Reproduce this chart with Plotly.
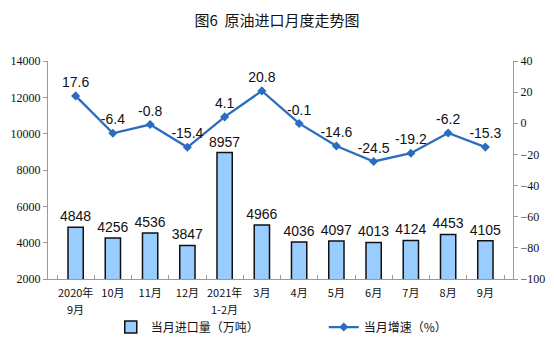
import plotly.graph_objects as go

months = ["2020年9月", "10月", "11月", "12月", "2021年1-2月", "3月",
          "4月", "5月", "6月", "7月", "8月", "9月"]
# first / second line of each category label
label_top = ["2020年", "10月", "11月", "12月", "2021年", "3月",
             "4月", "5月", "6月", "7月", "8月", "9月"]
label_bottom = ["9月", "", "", "", "1-2月", "", "", "", "", "", "", ""]
imports = [4848, 4256, 4536, 3847, 8957, 4966, 4036, 4097, 4013, 4124, 4453, 4105]
growth = [17.6, -6.4, -0.8, -15.4, 4.1, 20.8, -0.1, -14.6, -24.5, -19.2, -6.2, -15.3]

serif = "Liberation Serif, Times New Roman, serif"
cjk = "Noto Sans CJK SC, sans-serif"
sans = "Liberation Sans, Arial, sans-serif"

fig = go.Figure()
fig.add_trace(go.Bar(
    x=months, y=imports, name="当月进口量（万吨）",
    marker=dict(color="#99CCFF", line=dict(color="#111111", width=1.5)),
    width=0.41,
    text=[str(v) for v in imports], textposition="outside",
    textfont=dict(family=sans, size=14, color="#111111"),
    constraintext="none",
    cliponaxis=False,
))
fig.add_trace(go.Scatter(
    x=months, y=growth, name="当月增速（%）", yaxis="y2",
    mode="lines+markers+text",
    line=dict(color="#2A6DBF", width=2.3),
    marker=dict(symbol="diamond", size=7, color="#2A6DBF"),
    text=[f"{v:g}" for v in growth], textposition="top center",
    textfont=dict(family=sans, size=14, color="#111111"),
    cliponaxis=False,
))

# second line of the two-line category labels
for m, sub in zip(months, label_bottom):
    if sub:
        fig.add_annotation(x=m, xref="x", y=0, yref="paper", yshift=-30,
                           text=sub, showarrow=False, yanchor="middle",
                           font=dict(family=cjk, size=11, color="#111111"))

fig.update_layout(
    width=554, height=345,
    margin=dict(l=48, r=41, t=61, b=66, autoexpand=False),
    paper_bgcolor="white", plot_bgcolor="white",
    title=dict(text="图6  原油进口月度走势图", x=0.5, xanchor="center",
               y=0.94, yanchor="middle",
               font=dict(family=cjk, size=15, color="#111111")),
    showlegend=True,
    legend=dict(orientation="h", x=0.135, xanchor="left",
                yref="container", y=0.052, yanchor="middle",
                font=dict(family=cjk, size=12, color="#111111"),
                entrywidth=168, entrywidthmode="pixels",
                traceorder="normal"),
    uniformtext=dict(mode=False),
    xaxis=dict(
        type="category", showline=True, linecolor="#999999", linewidth=1,
        ticks="inside", ticklen=4, tickcolor="#999999", tickson="boundaries",
        tickangle=0, automargin=False, ticklabelstandoff=4,
        tickmode="array", tickvals=months, ticktext=label_top,
        tickfont=dict(family=cjk, size=11, color="#111111"),
        showgrid=False,
    ),
    yaxis=dict(
        range=[2000, 14000], dtick=2000, tickformat="d", showgrid=False,
        showline=True, linecolor="#999999", linewidth=1,
        ticks="outside", ticklen=4, tickcolor="#999999", automargin=False,
        tickfont=dict(family=serif, size=12, color="#111111"),
        zeroline=False,
    ),
    yaxis2=dict(
        range=[-100, 40], dtick=20, tickformat="d", overlaying="y", side="right",
        showgrid=False, showline=True, linecolor="#999999", linewidth=1,
        ticks="outside", ticklen=4, tickcolor="#999999", automargin=False,
        tickfont=dict(family=serif, size=12, color="#111111"),
        zeroline=False,
    ),
)

fig.write_html("out.html")
